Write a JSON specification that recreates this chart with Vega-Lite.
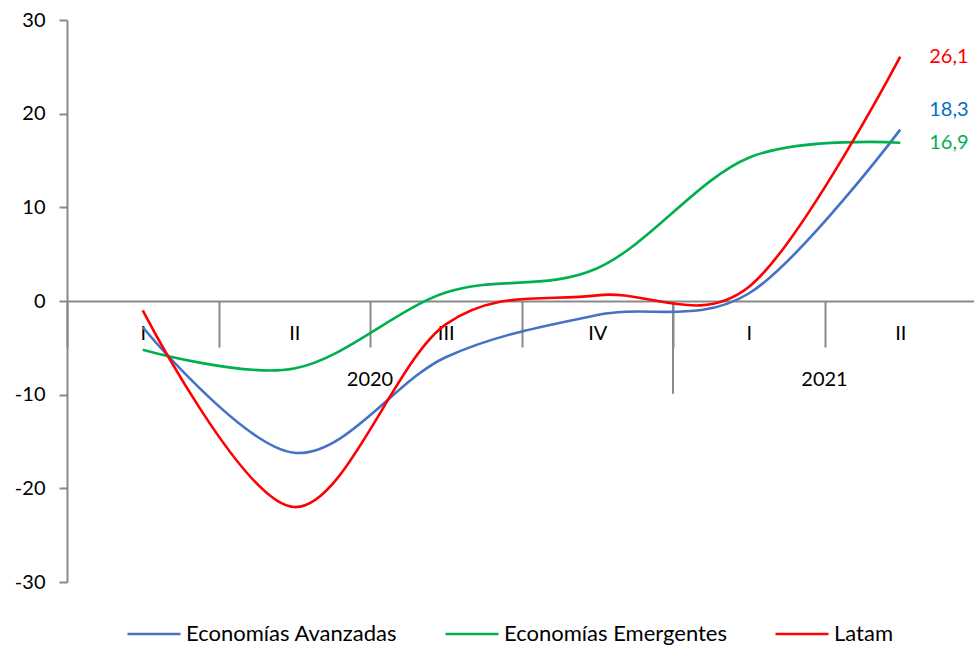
{
  "$schema": "https://vega.github.io/schema/vega-lite/v6.json",
  "width": 909,
  "height": 562,
  "autosize": {"type": "none"},
  "padding": {"left": 67, "top": 20, "right": 0, "bottom": 63},
  "background": "white",
  "config": {
    "view": {"stroke": null},
    "font": "Lato",
    "locale": {
      "number": {"decimal": ",", "thousands": ".", "grouping": [3], "currency": ["", " €"], "minus": "-"}
    },
    "axis": {"labelFont": "Lato", "labelColor": "#000000", "grid": false}
  },
  "datasets": {
    "series": [
      {"q": "2020-I", "serie": "Economías Avanzadas", "v": -2.8},
      {"q": "2020-II", "serie": "Economías Avanzadas", "v": -16.2},
      {"q": "2020-III", "serie": "Economías Avanzadas", "v": -6.0},
      {"q": "2020-IV", "serie": "Economías Avanzadas", "v": -1.5},
      {"q": "2021-I", "serie": "Economías Avanzadas", "v": 0.8},
      {"q": "2021-II", "serie": "Economías Avanzadas", "v": 18.3},
      {"q": "2020-I", "serie": "Economías Emergentes", "v": -5.2},
      {"q": "2020-II", "serie": "Economías Emergentes", "v": -7.2},
      {"q": "2020-III", "serie": "Economías Emergentes", "v": 0.9},
      {"q": "2020-IV", "serie": "Economías Emergentes", "v": 3.5},
      {"q": "2021-I", "serie": "Economías Emergentes", "v": 15.3},
      {"q": "2021-II", "serie": "Economías Emergentes", "v": 16.9},
      {"q": "2020-I", "serie": "Latam", "v": -1.0},
      {"q": "2020-II", "serie": "Latam", "v": -22.0},
      {"q": "2020-III", "serie": "Latam", "v": -2.5},
      {"q": "2020-IV", "serie": "Latam", "v": 0.6},
      {"q": "2021-I", "serie": "Latam", "v": 1.5},
      {"q": "2021-II", "serie": "Latam", "v": 26.1}
    ],
    "years": [
      {"q": "2020-III", "year": "2020"},
      {"q": "2021-II", "year": "2021"}
    ],
    "divider": [
      {"q": "2021-I"}
    ]
  },
  "encoding": {
    "x": {
      "field": "q",
      "type": "ordinal",
      "scale": {
        "type": "band",
        "domain": ["2020-I", "2020-II", "2020-III", "2020-IV", "2021-I", "2021-II"],
        "paddingInner": 0,
        "paddingOuter": 0
      },
      "axis": {
        "title": null,
        "orient": "bottom",
        "offset": -281,
        "tickBand": "extent",
        "tickSize": 46,
        "tickColor": "#898989",
        "tickWidth": 2,
        "domainColor": "#898989",
        "domainWidth": 2,
        "labelAngle": 0,
        "labelFontSize": 20,
        "labelBaseline": "middle",
        "labelPadding": -14,
        "labelExpr": "split(datum.label, '-')[1]"
      }
    }
  },
  "layer": [
    {
      "data": {"name": "divider"},
      "mark": {"type": "rule", "color": "#898989", "strokeWidth": 2},
      "encoding": {
        "x": {"field": "q", "type": "ordinal", "bandPosition": 0},
        "y": {"datum": 0, "type": "quantitative"},
        "y2": {"datum": -9.9}
      }
    },
    {
      "data": {"name": "years"},
      "mark": {"type": "text", "fontSize": 20, "baseline": "middle", "align": "center", "color": "#000000"},
      "encoding": {
        "x": {"field": "q", "type": "ordinal", "bandPosition": 0},
        "y": {"datum": -8.4, "type": "quantitative"},
        "text": {"field": "year"}
      }
    },
    {
      "data": {"name": "series"},
      "mark": {"type": "line", "interpolate": "cardinal", "strokeWidth": 2.6},
      "encoding": {
        "y": {
          "field": "v",
          "type": "quantitative",
          "scale": {"domain": [-30, 30], "nice": false},
          "axis": {
            "title": null,
            "values": [-30, -20, -10, 0, 10, 20, 30],
            "format": "d",
            "tickSize": 8,
            "tickColor": "#898989",
            "tickWidth": 2,
            "domainColor": "#898989",
            "domainWidth": 2,
            "labelFontSize": 20,
            "labelPadding": 14
          }
        },
        "color": {
          "field": "serie",
          "type": "nominal",
          "scale": {
            "domain": ["Economías Avanzadas", "Economías Emergentes", "Latam"],
            "range": ["#4472C4", "#00B050", "#FF0000"]
          },
          "legend": {
            "title": null,
            "orient": "none",
            "legendX": 59,
            "legendY": 586,
            "direction": "horizontal",
            "symbolType": "stroke",
            "symbolSize": 2809,
            "symbolStrokeWidth": 2.6,
            "labelFontSize": 22,
            "labelLimit": 400,
            "labelOffset": 4,
            "columnPadding": 42,
            "labelColor": "#000000"
          }
        }
      }
    },
    {
      "data": {"name": "series"},
      "transform": [{"filter": "datum.q == '2021-II' && datum.serie == 'Latam'"}],
      "mark": {"type": "text", "align": "left", "baseline": "middle", "dx": 29, "fontSize": 20, "color": "#FF0000"},
      "encoding": {
        "y": {"field": "v", "type": "quantitative"},
        "text": {"field": "v", "type": "quantitative", "format": ".1f"}
      }
    },
    {
      "data": {"name": "series"},
      "transform": [{"filter": "datum.q == '2021-II' && datum.serie == 'Economías Avanzadas'"}],
      "mark": {"type": "text", "align": "left", "baseline": "middle", "dx": 29, "dy": -20, "fontSize": 20, "color": "#0070C0"},
      "encoding": {
        "y": {"field": "v", "type": "quantitative"},
        "text": {"field": "v", "type": "quantitative", "format": ".1f"}
      }
    },
    {
      "data": {"name": "series"},
      "transform": [{"filter": "datum.q == '2021-II' && datum.serie == 'Economías Emergentes'"}],
      "mark": {"type": "text", "align": "left", "baseline": "middle", "dx": 29, "fontSize": 20, "color": "#00B050"},
      "encoding": {
        "y": {"field": "v", "type": "quantitative"},
        "text": {"field": "v", "type": "quantitative", "format": ".1f"}
      }
    }
  ]
}
